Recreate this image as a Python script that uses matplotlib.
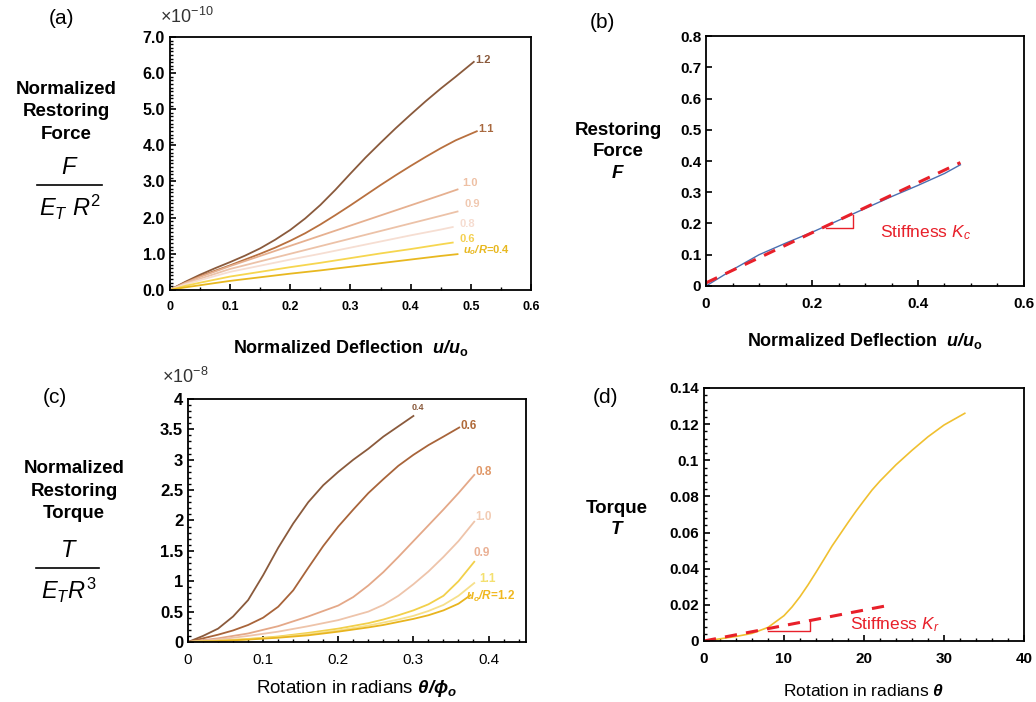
import matplotlib
matplotlib.use("Agg")
import matplotlib.pyplot as plt
import numpy as np
from matplotlib.lines import Line2D
from matplotlib.ticker import MultipleLocator

plt.rcParams['font.family'] = ['Liberation Sans', 'DejaVu Sans']
plt.rcParams['mathtext.fontset'] = 'custom'
plt.rcParams['mathtext.rm'] = 'Liberation Sans'
plt.rcParams['mathtext.it'] = 'Liberation Sans:italic'
plt.rcParams['mathtext.bf'] = 'Liberation Sans:bold'
plt.rcParams['mathtext.bfit'] = 'Liberation Sans:italic:bold'

# (a) normalized restoring force (units of 1e-10) vs u/u_o, one curve per u_o/R
a_x12 = [0, 0.025, 0.05, 0.075, 0.1, 0.125, 0.15, 0.175, 0.2, 0.225, 0.25,
         0.275, 0.3, 0.325, 0.35, 0.375, 0.4, 0.425, 0.45, 0.475, 0.505]
a_f12 = [0, 0.22, 0.42, 0.60, 0.77, 0.95, 1.15, 1.39, 1.66, 1.98, 2.35,
         2.77, 3.22, 3.66, 4.07, 4.47, 4.85, 5.22, 5.57, 5.90, 6.31]
a_x11 = [0, 0.025, 0.05, 0.075, 0.1, 0.125, 0.15, 0.175, 0.2, 0.225, 0.25,
         0.275, 0.3, 0.325, 0.35, 0.375, 0.4, 0.425, 0.45, 0.475, 0.51]
a_f11 = [0, 0.20, 0.38, 0.53, 0.68, 0.84, 1.00, 1.17, 1.36, 1.57, 1.81,
         2.07, 2.34, 2.62, 2.90, 3.17, 3.43, 3.68, 3.92, 4.14, 4.39]
a_x_short = [0, 0.025, 0.05, 0.1, 0.15, 0.2, 0.25, 0.3, 0.35, 0.4, 0.45, 0.478]
a_f10 = [0, 0.19, 0.36, 0.66, 0.94, 1.22, 1.50, 1.78, 2.06, 2.34, 2.62, 2.78]
a_f09 = [0, 0.17, 0.31, 0.58, 0.79, 1.00, 1.21, 1.42, 1.63, 1.84, 2.05, 2.17]
a_f04 = [0, 0.07, 0.13, 0.25, 0.35, 0.45, 0.54, 0.64, 0.74, 0.84, 0.94, 0.99]
a_x_08 = [0, 0.025, 0.05, 0.1, 0.15, 0.2, 0.25, 0.3, 0.35, 0.4, 0.45, 0.47]
a_f08 = [0, 0.15, 0.27, 0.50, 0.67, 0.84, 1.00, 1.17, 1.34, 1.51, 1.67, 1.74]
a_f06 = [0, 0.11, 0.20, 0.37, 0.50, 0.63, 0.75, 0.88, 1.01, 1.13, 1.26, 1.31]

# (b) restoring force vs u/u_o, and linear stiffness fit
b_x = [0, 0.05, 0.1, 0.15, 0.2, 0.25, 0.3, 0.35, 0.4, 0.45, 0.48]
b_f = [0, 0.052, 0.100, 0.137, 0.172, 0.210, 0.248, 0.286, 0.322, 0.360, 0.388]
b_fit_x = [0, 0.48]
b_fit_f = [0.01, 0.395]

# (c) normalized restoring torque (units of 1e-8) vs theta/phi_o
c_x04 = [0, 0.02, 0.04, 0.06, 0.08, 0.1, 0.12, 0.14, 0.16, 0.18, 0.2,
         0.22, 0.24, 0.26, 0.28, 0.30]
c_t04 = [0, 0.10, 0.22, 0.42, 0.69, 1.10, 1.55, 1.95, 2.30, 2.58, 2.80,
         3.00, 3.18, 3.38, 3.55, 3.72]
c_x06 = [0, 0.02, 0.04, 0.06, 0.08, 0.1, 0.12, 0.14, 0.16, 0.18, 0.2,
         0.22, 0.24, 0.26, 0.28, 0.30, 0.32, 0.34, 0.361]
c_t06 = [0, 0.06, 0.12, 0.19, 0.28, 0.40, 0.58, 0.85, 1.22, 1.58, 1.90,
         2.18, 2.45, 2.68, 2.90, 3.08, 3.24, 3.38, 3.53]
c_x08 = [0, 0.04, 0.08, 0.12, 0.16, 0.2, 0.22, 0.24, 0.26, 0.28, 0.30,
         0.32, 0.34, 0.36, 0.381]
c_t08 = [0, 0.06, 0.14, 0.26, 0.42, 0.60, 0.74, 0.93, 1.15, 1.40, 1.66,
         1.92, 2.18, 2.45, 2.75]
c_x_rest = [0, 0.04, 0.08, 0.12, 0.16, 0.2, 0.24, 0.26, 0.28, 0.30, 0.32,
            0.34, 0.36, 0.381]
c_t10 = [0, 0.04, 0.10, 0.17, 0.26, 0.36, 0.50, 0.61, 0.76, 0.95, 1.16,
         1.40, 1.66, 1.98]
c_t09 = [0, 0.02, 0.05, 0.09, 0.15, 0.22, 0.31, 0.37, 0.44, 0.52, 0.62,
         0.76, 1.00, 1.32]
c_t11 = [0, 0.02, 0.045, 0.08, 0.13, 0.19, 0.27, 0.32, 0.37, 0.43, 0.51,
         0.61, 0.76, 0.97]
c_x12 = [0, 0.04, 0.08, 0.12, 0.16, 0.2, 0.24, 0.26, 0.28, 0.30, 0.32,
         0.34, 0.36, 0.376]
c_t12 = [0, 0.015, 0.04, 0.07, 0.11, 0.17, 0.24, 0.28, 0.33, 0.38, 0.44,
         0.52, 0.63, 0.77]

# (d) torque vs rotation theta, and linear stiffness fit
d_x = [0, 2, 4, 6, 8, 10, 11, 12, 13, 14, 15, 16, 17, 18, 19, 20, 21, 22,
       24, 26, 28, 30, 32.6]
d_t = [0, 0.0012, 0.0025, 0.0042, 0.0075, 0.0140, 0.0188, 0.0245, 0.031,
       0.038, 0.0452, 0.0525, 0.059, 0.0655, 0.0718, 0.0777, 0.0835, 0.0885,
       0.0975, 0.1055, 0.1130, 0.1195, 0.126]
d_fit_x = [0, 22.7]
d_fit_t = [0, 0.0194]

fig = plt.figure(figsize=(10.36, 7.02), dpi=100)
ax_a = fig.add_axes([0.164, 0.587, 0.3485, 0.3604])
ax_b = fig.add_axes([0.6815, 0.5926, 0.3069, 0.3561])
ax_c = fig.add_axes([0.1815, 0.0855, 0.3263, 0.3462])
ax_d = fig.add_axes([0.6795, 0.0869, 0.3089, 0.3604])

for ax in (ax_a, ax_b, ax_c, ax_d):
    ax.tick_params(which='both', direction='in', top=False, right=False)
    ax.tick_params(which='major', length=4, width=1.2, labelsize=10)
    ax.tick_params(which='minor', length=2.5, width=1.0)
    for s in ax.spines.values():
        s.set_linewidth(1.3)

def bold_ticks(ax, x=True, y=True):
    if x:
        for t in ax.get_xticklabels():
            t.set_fontweight('bold')
    if y:
        for t in ax.get_yticklabels():
            t.set_fontweight('bold')

# ---- (a)
a_series = [
    (a_x12, a_f12, '#8a5a3c', '1.2', 0.508, 6.36, '#8a5a3c'),
    (a_x11, a_f11, '#b8703f', '1.1', 0.512, 4.46, '#a8683e'),
    (a_x_short, a_f10, '#e6b090', '1.0', 0.486, 2.95, '#eec0a4'),
    (a_x_short, a_f09, '#ecc2a8', '0.9', 0.490, 2.39, '#f0c8b0'),
    (a_x_08, a_f08, '#f6ded2', '0.8', 0.482, 1.82, '#f6dcd0'),
    (a_x_08, a_f06, '#f6d650', '0.6', 0.482, 1.40, '#f4d050'),
    (a_x_short, a_f04, '#e8b820', '$\\mathbfit{u_o/R}$=0.4', 0.487, 1.10, '#e8b820'),
]
for xs, ys, c, lab, lx, ly, lc in a_series:
    ax_a.plot(xs, ys, color=c, lw=1.3)
    ax_a.text(lx, ly, lab, color=lc, fontsize=8, fontweight='bold', ha='left', va='center')
ax_a.set_xlim(0, 0.6)
ax_a.set_ylim(0, 7)
ax_a.xaxis.set_minor_locator(MultipleLocator(0.05))
ax_a.yaxis.set_minor_locator(MultipleLocator(0.1))
ax_a.set_xticks([0, 0.1, 0.2, 0.3, 0.4, 0.5, 0.6], ['0', '0.1', '0.2', '0.3', '0.4', '0.5', '0.6'])
ax_a.set_yticks(np.arange(0, 7.01, 1.0), [f'{v:.1f}' for v in np.arange(0, 7.01, 1.0)])
ax_a.tick_params(axis='x', labelsize=9, pad=8)
ax_a.tick_params(axis='y', labelsize=11.5)
bold_ticks(ax_a)
ax_a.set_xlabel('Normalized Deflection  $\\mathbfit{u/u}_\\mathbf{o}$', fontsize=13,
                fontweight='bold', labelpad=18)

# ---- (b)
ax_b.plot(b_x, b_f, color='#4a6fb0', lw=1.0)
ax_b.plot(b_fit_x, b_fit_f, color='#e8202a', lw=2.2, ls=(0, (4, 3)))
ax_b.plot([0.226, 0.277, 0.277], [0.185, 0.185, 0.227], color='#e8202a', lw=1.0)
ax_b.text(0.328, 0.17, 'Stiffness $K_c$', color='#e8202a', fontsize=12.5, va='center')
ax_b.set_xlim(0, 0.6)
ax_b.set_ylim(0, 0.8)
ax_b.set_xticks([0, 0.2, 0.4, 0.6], ['0', '0.2', '0.4', '0.6'])
ax_b.xaxis.set_minor_locator(MultipleLocator(0.05))
ax_b.set_yticks(np.arange(0, 0.81, 0.1), ['0'] + [f'{v:.1f}' for v in np.arange(0.1, 0.81, 0.1)])
ax_b.tick_params(axis='x', labelsize=11, pad=8)
ax_b.tick_params(axis='y', labelsize=11)
bold_ticks(ax_b)
ax_b.set_xlabel('Normalized Deflection  $\\mathbfit{u/u}_\\mathbf{o}$', fontsize=13,
                fontweight='bold', labelpad=14)

# ---- (c)
c_series = [
    (c_x04, c_t04, '#8a5a3c', '0.4', 0.298, 3.86, '#8a5a3c', 6.5),
    (c_x06, c_t06, '#a8643a', '0.6', 0.363, 3.55, '#b06a3a', 8.5),
    (c_x08, c_t08, '#e4a888', '0.8', 0.383, 2.80, '#e09868', 8.5),
    (c_x_rest, c_t10, '#eec4aa', '1.0', 0.383, 2.06, '#f2ccb4', 8.5),
    (c_x_rest, c_t09, '#f2d04a', '0.9', 0.380, 1.47, '#eab094', 8.5),
    (c_x_rest, c_t11, '#f6e08a', '1.1', 0.388, 1.04, '#f4e070', 8.5),
    (c_x12, c_t12, '#e8b41e', '$\\mathbfit{u_o/R}$=1.2', 0.370, 0.75, '#f0b820', 8.5),
]
for xs, ys, c, lab, lx, ly, lc, fs in c_series:
    ax_c.plot(xs, ys, color=c, lw=1.3)
    ax_c.text(lx, ly, lab, color=lc, fontsize=fs, fontweight='bold', ha='left', va='center')
ax_c.set_xlim(0, 0.45)
ax_c.set_ylim(0, 4)
ax_c.set_xticks([0, 0.1, 0.2, 0.3, 0.4], ['0', '0.1', '0.2', '0.3', '0.4'])
ax_c.xaxis.set_minor_locator(MultipleLocator(0.02))
ax_c.set_yticks(np.arange(0, 4.01, 0.5), ['0', '0.5', '1', '1.5', '2', '2.5', '3', '3.5', '4'])
ax_c.yaxis.set_minor_locator(MultipleLocator(0.1))
ax_c.tick_params(axis='x', labelsize=11, pad=8)
ax_c.tick_params(axis='y', labelsize=12)
bold_ticks(ax_c, x=False)
ax_c.set_xlabel('Rotation in radians $\\mathbfit{\\theta/\\phi}_\\mathbfit{o}$', fontsize=13.5, labelpad=8)

# ---- (d)
ax_d.plot(d_x, d_t, color='#f0c030', lw=1.2)
ax_d.plot(d_fit_x, d_fit_t, color='#e8202a', lw=2.2, ls=(0, (4, 3)))
ax_d.plot([8.0, 13.25, 13.25], [0.0057, 0.0057, 0.0116], color='#e8202a', lw=1.0)
ax_d.text(18.2, 0.0089, 'Stiffness $K_r$', color='#e8202a', fontsize=12.5, va='center')
ax_d.set_xlim(0, 40)
ax_d.set_ylim(0, 0.14)
ax_d.set_xticks([0, 10, 20, 30, 40])
ax_d.xaxis.set_minor_locator(MultipleLocator(2))
ax_d.set_yticks(np.arange(0, 0.141, 0.02), ['0', '0.02', '0.04', '0.06', '0.08', '0.1', '0.12', '0.14'])
ax_d.yaxis.set_minor_locator(MultipleLocator(0.004))
ax_d.tick_params(axis='x', labelsize=11, pad=8)
ax_d.tick_params(axis='y', labelsize=11)
bold_ticks(ax_d)
ax_d.set_xlabel('Rotation in radians $\\mathbfit{\\theta}$', fontsize=12.5, labelpad=12)

# ---- panel letters, multipliers and y labels (figure pixels -> fractions)
W, H = 1036, 702

def ftext(px, py, s, **kw):
    fig.text(px / W, 1 - py / H, s, **kw)

def fline(x0, x1, py):
    fig.add_artist(Line2D([x0 / W, x1 / W], [1 - py / H, 1 - py / H], color='black', lw=1.2))

ftext(62, 18, '(a)', fontsize=15, ha='center', va='center')
ftext(602, 22, '(b)', fontsize=15, ha='center', va='center')
ftext(55, 398, '(c)', fontsize=15, ha='center', va='center')
ftext(605, 398, '(d)', fontsize=15, ha='center', va='center')

ftext(160, 17, '$\\times\\mathregular{10^{-10}}$', fontsize=13, ha='left', va='center', color='#333333')
ftext(162, 377, '$\\times\\mathregular{10^{-8}}$', fontsize=13, ha='left', va='center', color='#333333')

ftext(66, 112, 'Normalized\nRestoring\nForce', fontsize=13.5, fontweight='bold',
      ha='center', va='center', linespacing=1.45)
ftext(70, 168, '$F$', fontsize=17, ha='center', va='center')
fline(37, 102, 185)
ftext(70, 207, '$E_T\\ R^2$', fontsize=17, ha='center', va='center')

ftext(618, 152, 'Restoring\nForce\n$\\mathbfit{F}$', fontsize=13.5, fontweight='bold',
      ha='center', va='center', linespacing=1.35)

ftext(74, 491, 'Normalized\nRestoring\nTorque', fontsize=13.5, fontweight='bold',
      ha='center', va='center', linespacing=1.45)
ftext(69, 551, '$T$', fontsize=17, ha='center', va='center')
fline(36, 99, 568)
ftext(69, 590, '$E_T R^3$', fontsize=17, ha='center', va='center')

ftext(617, 519, 'Torque\n$\\mathbfit{T}$', fontsize=13.5, fontweight='bold',
      ha='center', va='center', linespacing=1.3)

fig.savefig('out.png', dpi=100)
